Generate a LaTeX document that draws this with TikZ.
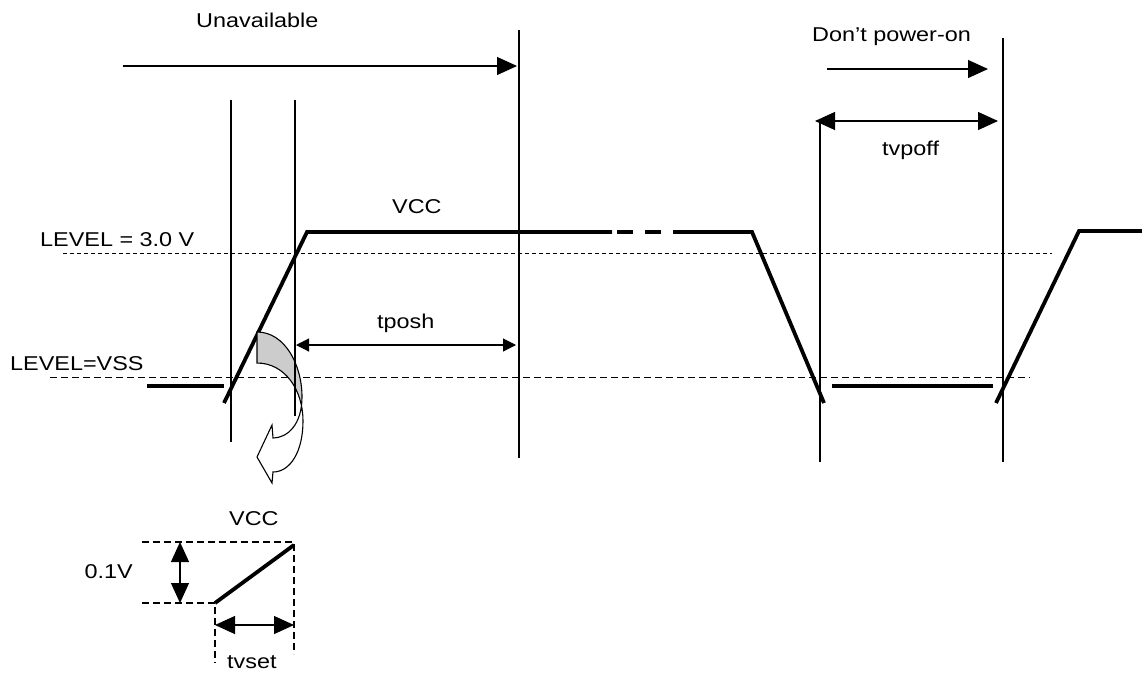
\documentclass[tikz,border=0pt]{standalone}
\usepackage{fontspec}
\setmainfont{Liberation Sans}[FakeStretch=1.17]
\usetikzlibrary{arrows.meta,intersections}
\begin{document}
\begin{tikzpicture}[x=1pt,y=-1pt,
  thin line/.style={line width=1.1pt},
  wave/.style={line width=3.8pt},
  guide/.style={line width=1pt,dash pattern=on 4pt off 3pt},
  guide2/.style={line width=1pt,dash pattern=on 7pt off 4pt},
  detail dash/.style={line width=1.3pt,dash pattern=on 7pt off 4pt},
  big arrow/.style={thin line,-{Triangle[length=20pt,width=18pt]}},
  big both/.style={thin line,{Triangle[length=20pt,width=18pt]}-{Triangle[length=20pt,width=18pt]}},
  small both/.style={thin line,{Triangle[length=13pt,width=13pt]}-{Triangle[length=13pt,width=13pt]}},
  lbl/.style={inner sep=0pt,anchor=base west,font=\fontsize{20}{24}\selectfont}]
\useasboundingbox (0,0) rectangle (1142,675);
% coordinates
\coordinate (V1t) at (231,100); \coordinate (V1b) at (231,442);
\coordinate (V2t) at (295,100); \coordinate (V2b) at (295,416);
\coordinate (V3t) at (519,30);  \coordinate (V3b) at (519,458);
\coordinate (V4t) at (820,122); \coordinate (V4b) at (820,462);
\coordinate (V5t) at (1003,38); \coordinate (V5b) at (1003,462);
% texts
\node[lbl] (unav) at (196,27) {Unavailable};
\node[lbl] (dpo) at (812,41) {Don’t power-on};
\node[lbl] (tvpoff) at (882,155) {tvpoff};
\node[lbl] (vcc) at (392,213) {VCC};
\node[lbl] (tposh) at (377,328) {tposh};
\node[lbl] (l3) at (40,246) {LEVEL = 3.0 V};
\node[lbl] (lvss) at (10,370) {LEVEL=VSS};
\node[lbl] (vcc2) at (229,525) {VCC};
\node[lbl,anchor=base east] (v01) at (133,578) {0.1V};
\node[lbl] (tvset) at (227,668) {tvset};
% guides
\coordinate (G1a) at (63,253); \coordinate (G1b) at (1052,253);
\coordinate (G2a) at (50,377); \coordinate (G2b) at (1030,377);
\draw[guide] (G1a) -- (G1b);
\draw[guide2] (G2a) -- (G2b);
% vertical lines
\draw[thin line] (V1t) -- (V1b);
\draw[thin line] (V3t) -- (V3b);
\draw[thin line] (V4t) -- (V4b);
\draw[thin line] (V5t) -- (V5b);
% top arrows
\coordinate (Ua) at (123,66); \coordinate (Ub) at (517,66);
\draw[big arrow] (Ua) -- (Ub);
\coordinate (Da) at (827,69); \coordinate (Db) at (988,69);
\draw[big arrow] (Da) -- (Db);
\coordinate (Ta) at (815,121); \coordinate (Tb) at (998,121);
\draw[big both] (Ta) -- (Tb);
\coordinate (Pa) at (296,345); \coordinate (Pb) at (516,345);
\draw[small both] (Pa) -- (Pb);
% waveform
\coordinate (w1) at (147,386); \coordinate (w2) at (224,386);
\coordinate (w3) at (224,403); \coordinate (w4) at (307,232);
\coordinate (w5) at (612,232); \coordinate (w6) at (687,232);
\coordinate (w7) at (752,232); \coordinate (w8) at (824,403);
\coordinate (w9) at (832,386); \coordinate (w10) at (993,386);
\coordinate (w11) at (996,403); \coordinate (w12) at (1079,231);
\coordinate (w13) at (1142,231);
\draw[wave] (w1) -- (w2);
\draw[wave,line join=miter] (w3) -- (w4) -- (w5);
\draw[wave,dash pattern=on 16pt off 12pt] (617,232) -- (w6);
\draw[wave,line join=miter] (w6) -- (w7) -- (w8);
\draw[wave] (w9) -- (w10);
\draw[wave,line join=miter] (w11) -- (w12) -- (w13);
% curved arrow
\coordinate (A) at (257,332); \coordinate (C) at (257,363);
\coordinate (M1) at (302,397); \coordinate (M2) at (303,421);
\coordinate (P1) at (273,438); \coordinate (P2) at (273,472);
\coordinate (B1) at (272,425); \coordinate (T) at (257,457);
\coordinate (B2) at (272,483);
\coordinate (R) at (1142,0); \coordinate (L) at (0,0);
\path[name path=c1] (A) .. controls (285,332) and (302,365) .. (M1) .. controls (302,425) and (287,438) .. (P1);
\path[name path=c2] (C) .. controls (285,363) and (303,390) .. (M2) .. controls (303,452) and (290,472) .. (P2);
\path[name intersections={of=c1 and c2, by=X}];
\begin{scope}
\clip (L) rectangle (X -| R);
\fill[black!20,even odd rule] (A) .. controls (285,332) and (302,365) .. (M1) .. controls (302,425) and (287,438) .. (P1) -- (B1) -- (T) -- (B2) -- (P2) .. controls (290,472) and (303,452) .. (M2) .. controls (303,390) and (285,363) .. (C) -- cycle;
\end{scope}
\draw[thin line] (V2t) -- (V2b);
\begin{scope}
\clip (X -| L) rectangle (1142,675);
\fill[white,even odd rule] (A) .. controls (285,332) and (302,365) .. (M1) .. controls (302,425) and (287,438) .. (P1) -- (B1) -- (T) -- (B2) -- (P2) .. controls (290,472) and (303,452) .. (M2) .. controls (303,390) and (285,363) .. (C) -- cycle;
\end{scope}
\draw[thin line,line join=miter] (A) .. controls (285,332) and (302,365) .. (M1) .. controls (302,425) and (287,438) .. (P1) -- (B1) -- (T) -- (B2) -- (P2) .. controls (290,472) and (303,452) .. (M2) .. controls (303,390) and (285,363) .. (C) -- cycle;
% lower detail
\coordinate (d1) at (142,542); \coordinate (d2) at (294,542);
\coordinate (d3) at (142,603); \coordinate (d4) at (215,603);
\coordinate (d5) at (294,545); \coordinate (d6) at (294,654);
\coordinate (d7) at (215,663);
\draw[detail dash] (d1) -- (d2) -- (d6);
\draw[detail dash] (d3) -- (d4) -- (d7);
\draw[wave] (d4) -- (d5);
\coordinate (e1) at (180,542); \coordinate (e2) at (180,603);
\draw[big both] (e1) -- (e2);
\coordinate (f1) at (215,625); \coordinate (f2) at (294,625);
\draw[big both] (f1) -- (f2);
\end{tikzpicture}
\end{document}
